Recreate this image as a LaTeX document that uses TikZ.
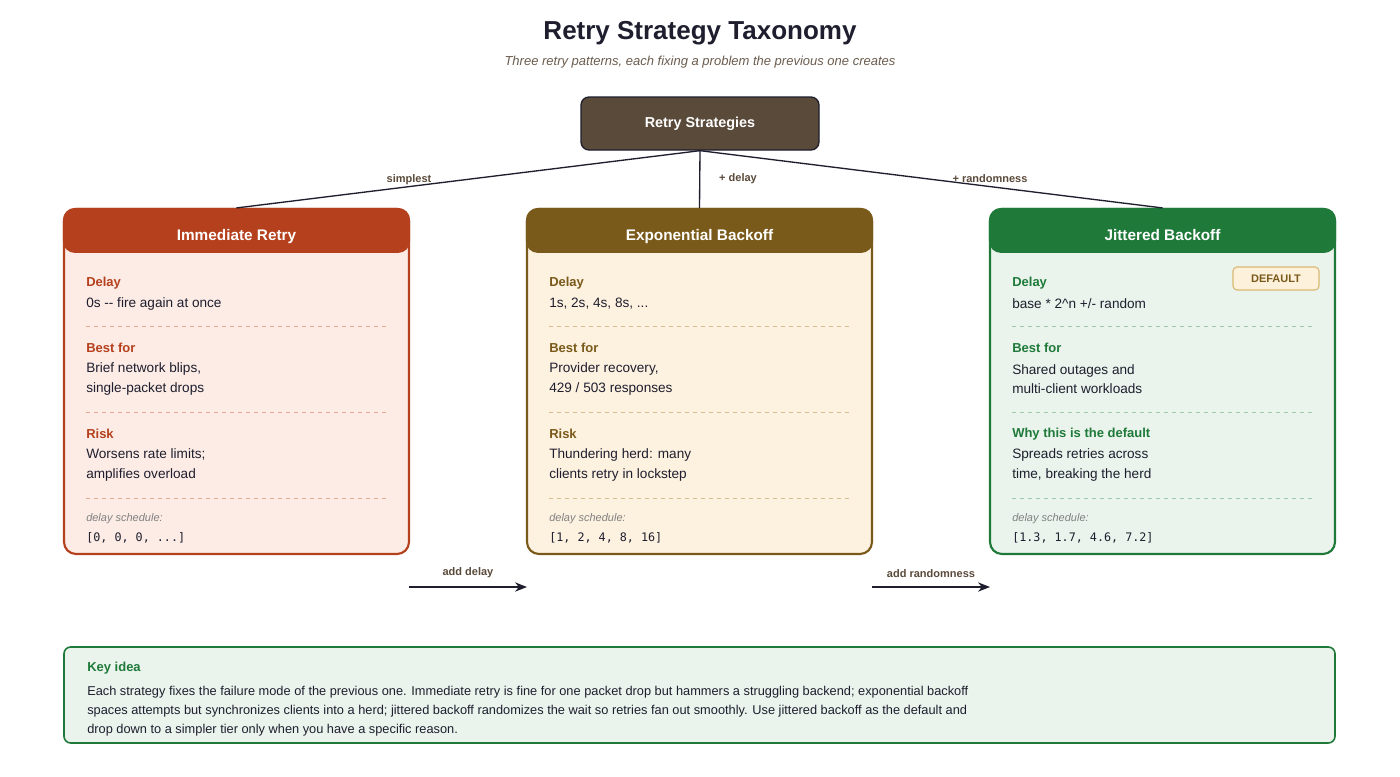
\documentclass[tikz,border=0pt]{standalone}
\usepackage{fontspec}
\setmainfont{Liberation Sans}
\setmonofont{DejaVu Sans Mono}
\usetikzlibrary{arrows.meta,positioning}
\definecolor{ink}{HTML}{1E1E2E}
\definecolor{rootbrown}{HTML}{5A4A3A}
\definecolor{redhd}{HTML}{B5401D}
\definecolor{redbg}{HTML}{FCECE5}
\definecolor{redln}{HTML}{E8A890}
\definecolor{brnhd}{HTML}{7A5A1A}
\definecolor{brnbg}{HTML}{FDF1E0}
\definecolor{brnln}{HTML}{D6BE90}
\definecolor{grnhd}{HTML}{1F7A3A}
\definecolor{grnbg}{HTML}{EAF4EC}
\definecolor{grnln}{HTML}{9CC8A8}
\definecolor{badgebg}{HTML}{FDF1DC}
\definecolor{badgeln}{HTML}{D9B870}
\newcommand{\fs}[1]{\fontsize{#1}{#1}\selectfont}
% one card: #1 name, #2 left x, #3 head colour, #4 fill, #5 dash colour, #6 title
\newcommand{\retrycard}[6]{
    \node[card, draw=#3, fill=#4] (#1) at (#2+172.5,381.5) {};
    \fill[#3, rounded corners=9] (#1.north west) rectangle ([yshift=-45*0.75pt]#1.north east);
    \node[head] (#1h) at (#2+172.5,240) {#6};
    \foreach \yy in {326,412,498}
        \draw[dashed, #5] (#2+22,\yy) -- (#2+322,\yy);
}
\tikzset{
    card/.style={rounded corners=9, line width=1.6pt, minimum width=345*0.75pt, minimum height=345*0.75pt, inner sep=0},
    head/.style={text=white, anchor=base, font=\bfseries\fs{11.5}},
    lab/.style={anchor=west, inner sep=0, font=\bfseries\fs{9.75}},
    val/.style={anchor=west, inner sep=0, text=ink, font=\fs{10.2}, align=left},
    sched/.style={anchor=west, inner sep=0, text=gray, font=\itshape\fs{8.25}},
    mono/.style={anchor=west, inner sep=0, text=ink, font=\ttfamily\fs{8.8}},
    edgelab/.style={text=rootbrown, font=\bfseries\fs{8.25}},
}
\begin{document}
\begin{tikzpicture}[x=0.75pt, y=-0.75pt]
    \useasboundingbox (0,0) rectangle (1400,776);
    \fill[white] (0,0) rectangle (1400,776);

    \node[text=ink, font=\bfseries\fs{19.5}] (title) at (700,33) {Retry Strategy Taxonomy};
    \node[text=rootbrown!90, font=\itshape\fs{9.75}] (sub) at (700,62) {Three retry patterns, each fixing a problem the previous one creates};

    \node[draw=ink, fill=rootbrown, rounded corners=6, line width=1pt, minimum width=238*0.75pt, minimum height=53*0.75pt, text=white, font=\bfseries\fs{10.8}] (root) at (700,123.5) {Retry Strategies};

    \retrycard{imm}{64}{redhd}{redbg}{redln}{Immediate Retry}
    \retrycard{exp}{527}{brnhd}{brnbg}{brnln}{Exponential Backoff}
    \retrycard{jit}{990}{grnhd}{grnbg}{grnln}{Jittered Backoff}

    \draw[ink, line width=1pt] (root.south) -- (imm.north);
    \draw[ink, line width=1pt] (root.south) -- (exp.north);
    \draw[ink, line width=1pt] (root.south) -- (jit.north);
    \node[edgelab] at (409,180) {simplest};
    \node[edgelab] at (738,179) {+ delay};
    \node[edgelab] at (990,179) {+ randomness};

    % immediate
    \node[lab, text=redhd] at (86,283) {Delay};
    \node[val] at (86,304) {0s -{}- fire again at once};
    \node[lab, text=redhd] at (86,348) {Best for};
    \node[val] at (86,379) {Brief network blips,\\[4.5pt]single-packet drops};
    \node[lab, text=redhd] at (86,434) {Risk};
    \node[val] at (86,465) {Worsens rate limits;\\[4.5pt]amplifies overload};
    \node[sched] at (86,519) {delay schedule:};
    \node[mono] at (86,538) {[0, 0, 0, ...]};

    % exponential
    \node[lab, text=brnhd] at (549,283) {Delay};
    \node[val] at (549,304) {1s, 2s, 4s, 8s, ...};
    \node[lab, text=brnhd] at (549,348) {Best for};
    \node[val] at (549,379) {Provider recovery,\\[4.5pt]429 / 503 responses};
    \node[lab, text=brnhd] at (549,434) {Risk};
    \node[val] at (549,465) {Thundering herd: many\\[4.5pt]clients retry in lockstep};
    \node[sched] at (549,519) {delay schedule:};
    \node[mono] at (549,538) {[1, 2, 4, 8, 16]};

    % jittered
    \node[lab, text=grnhd] at (1012,283) {Delay};
    \node[val] at (1012,304) {base * 2\^{}n +/- random};
    \node[lab, text=grnhd] at (1012,348) {Best for};
    \node[val] at (1012,379) {Shared outages and\\[4.5pt]multi-client workloads};
    \node[lab, text=grnhd] at (1012,434) {Why this is the default};
    \node[val] at (1012,465) {Spreads retries across\\[4.5pt]time, breaking the herd};
    \node[sched] at (1012,519) {delay schedule:};
    \node[mono] at (1012,538) {[1.3, 1.7, 4.6, 7.2]};
    \node[draw=badgeln, fill=badgebg, rounded corners=3, line width=0.8pt, minimum width=86*0.75pt, minimum height=23*0.75pt, text=brnhd, font=\bfseries\fs{8.25}] (badge) at (1276,278.5) {DEFAULT};

    % progression arrows
    \coordinate (a1) at (409,587);
    \coordinate (a2) at (527,587);
    \coordinate (b1) at (872,587);
    \coordinate (b2) at (990,587);
    \draw[-{Stealth[length=9pt,width=7pt]}, ink, line width=1pt] (a1) -- node[above=3pt, edgelab] {add delay} (a2);
    \draw[-{Stealth[length=9pt,width=7pt]}, ink, line width=1pt] (b1) -- node[above=3pt, edgelab] {add randomness} (b2);

    % key idea
    \node[draw=grnhd, fill=grnbg, rounded corners=5, line width=1.2pt, minimum width=1271*0.75pt, minimum height=96*0.75pt] (key) at (699.5,695) {};
    \node[lab, text=grnhd] at (87,668) {Key idea};
    \node[val, font=\fs{9.6}] at (87,711) {Each strategy fixes the failure mode of the previous one. Immediate retry is fine for one packet drop but hammers a struggling backend; exponential backoff\\[4.5pt]spaces attempts but synchronizes clients into a herd; jittered backoff randomizes the wait so retries fan out smoothly. Use jittered backoff as the default and\\[4.5pt]drop down to a simpler tier only when you have a specific reason.};
\end{tikzpicture}
\end{document}
